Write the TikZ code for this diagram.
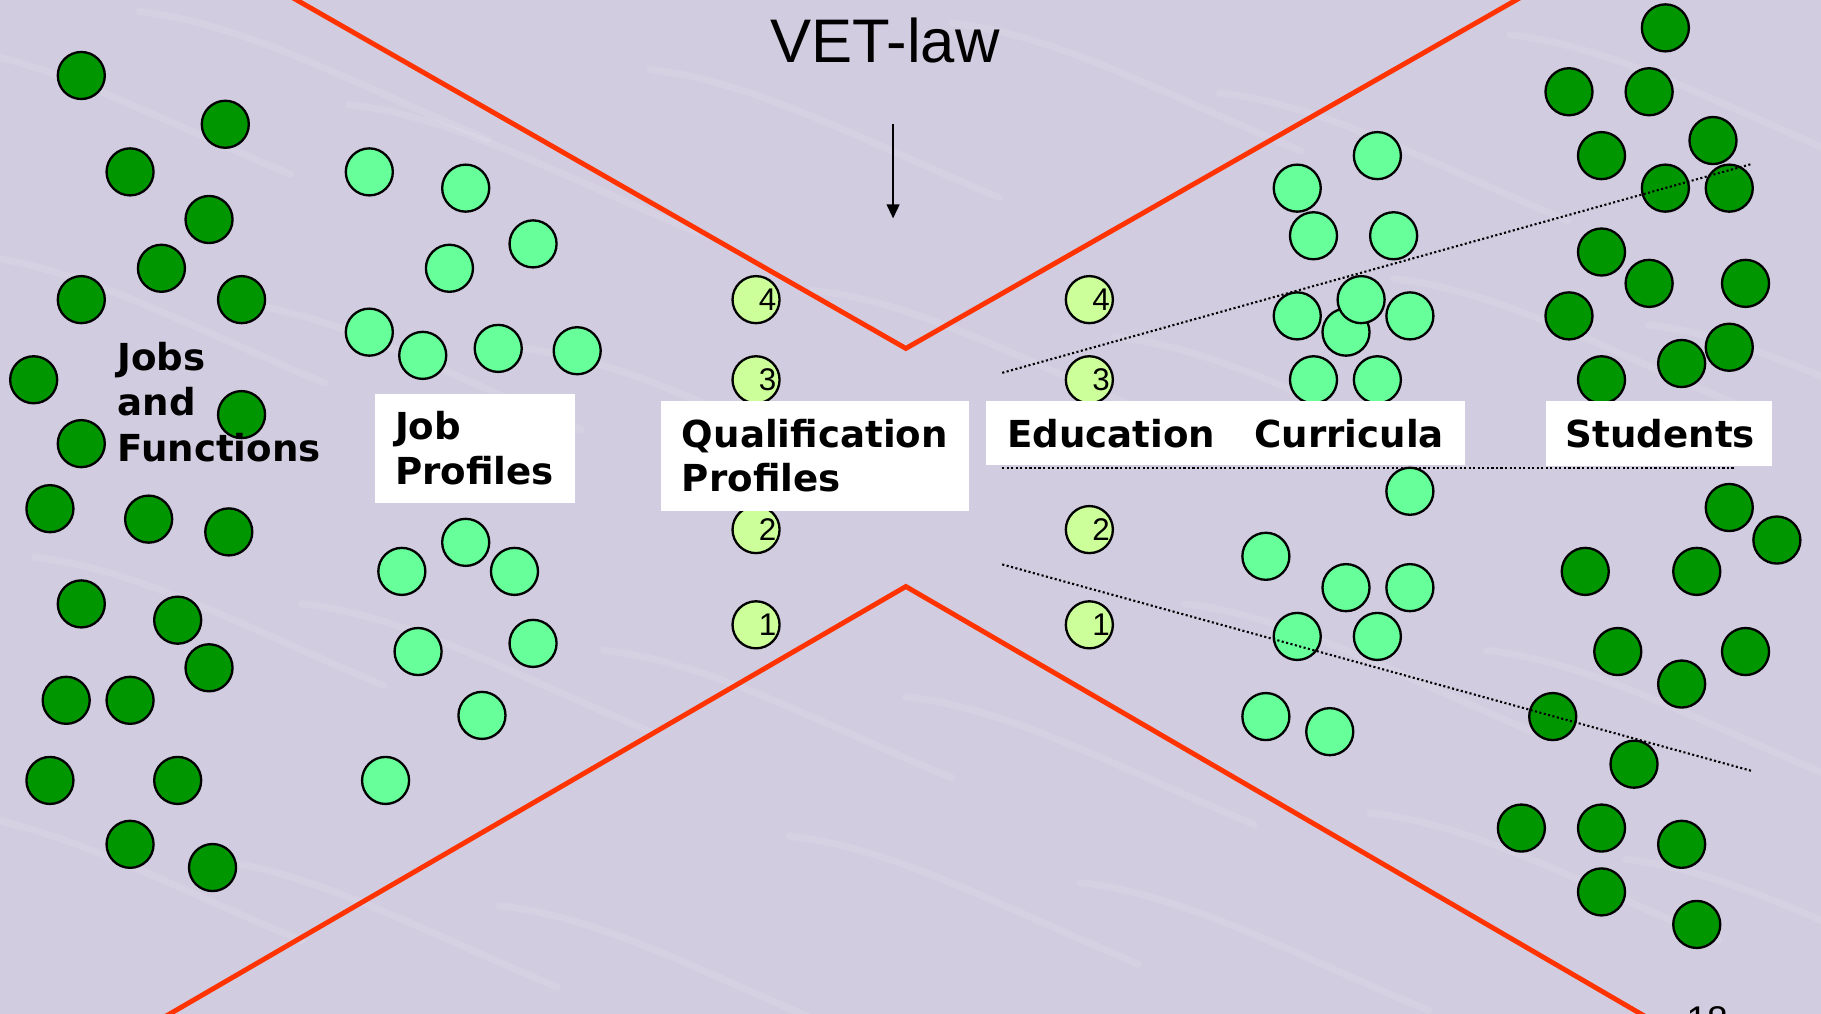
\documentclass[tikz,border=0pt]{standalone}
\usepackage{fontspec}
\setmainfont{Liberation Sans}
\newfontfamily\lblfont{DejaVu Sans}
\usetikzlibrary{arrows.meta}
\definecolor{bgc}{RGB}{209,204,223}
\definecolor{redline}{RGB}{255,51,0}
\definecolor{darkg}{RGB}{0,150,0}
\definecolor{lightg}{RGB}{102,255,153}
\definecolor{numg}{RGB}{204,255,153}
\begin{document}
\begin{tikzpicture}[x=1pt,y=-1pt,
  darkc/.style={circle, draw=black, line width=2pt, fill=darkg, minimum size=40.5pt, inner sep=0pt},
  lightc/.style={circle, draw=black, line width=2pt, fill=lightg, minimum size=40.5pt, inner sep=0pt},
  numc/.style={circle, draw=black, line width=2pt, fill=numg, minimum size=40.5pt, inner sep=0pt},
  numtxt/.style={font=\fontsize{27}{30}\selectfont, inner sep=0pt},
  lbl/.style={font=\lblfont\bfseries\fontsize{32}{38}\selectfont, anchor=base west, inner sep=0pt},
  wbox/.style={rectangle, fill=white, draw=none, inner sep=0pt, anchor=north west},
  redl/.style={draw=redline, line width=4.2pt},
  dotline/.style={draw=black, line width=1.8pt, dash pattern=on 1.8pt off 2.1pt},
  texture/.style={draw=white, opacity=0.1, line width=6pt, line cap=round}
]
\path[use as bounding box] (0,0) rectangle (1568,873);
\clip (0,0) rectangle (1568,873);
\fill[bgc] (0,0) rectangle (1568,873);
% faint water texture
\foreach \a/\b in {-50/40, 120/10, 300/90, 560/60, 820/20, 1050/80, 1300/30,
                   -20/220, 200/260, 450/300, 700/250, 960/290, 1200/240, 1420/280,
                   30/480, 260/520, 520/560, 780/600, 1020/520, 1280/560,
                   -40/700, 180/740, 430/780, 680/720, 930/760, 1180/700, 1400/740}
  \draw[texture] (\a,\b) .. controls (\a+90,\b+10) and (\a+180,\b+60) .. (\a+300,\b+110);
% red V lines
\coordinate (ul) at (238,-10);
\coordinate (uv) at (780,300);
\coordinate (ur) at (1323,-10);
\coordinate (ll) at (129,883);
\coordinate (lv) at (780,505);
\coordinate (lr) at (1430,883);
\draw[redl] (ul) -- (uv) -- (ur);
\draw[redl] (ll) -- (lv) -- (lr);
% dark green circles, left
\foreach \x/\y [count=\i] in {70/65,194/107,112/148,180/189,139/231,70/258,208/258,29/327,208/357,70/382,
  43/438,128/447,197/458,70/520,153/534,180/575,57/603,112/603,43/672,153/672,112/727,183/747}
  \node[darkc] (dl\i) at (\x,\y) {};
% light green circles, left
\foreach \x/\y [count=\i] in {318/148,401/162,459/210,387/231,318/286,364/306,429/300,497/302,
  401/467,346/492,443/492,360/561,459/554,415/616,332/672}
  \node[lightc] (ll\i) at (\x,\y) {};
% light green circles, right
\foreach \x/\y [count=\i] in {1186/134,1117/162,1131/203,1200/203,1117/272,1214/272,1159/286,1172/258,
  1131/327,1186/327,1214/423,1090/479,1159/506,1214/506,1117/548,1186/548,1090/617,1145/630}
  \node[lightc] (lr\i) at (\x,\y) {};
% dark green circles, right
\foreach \x/\y [count=\i] in {1434/24,1351/79,1420/79,1475/121,1379/134,1434/162,1489/162,1379/217,
  1420/244,1503/244,1351/272,1448/313,1489/299,1379/327,1489/437,1530/465,1365/492,1461/492,
  1393/561,1503/561,1448/589,1337/617,1407/658,1310/713,1379/713,1448/727,1379/768,1461/796}
  \node[darkc] (dr\i) at (\x,\y) {};
% numbered circles
\foreach \n/\y in {4/258,3/327,2/456,1/538} {
  \node[numc] (qc\n) at (651,\y) {};
  \node[numtxt] (qt\n) at ([xshift=10pt]qc\n.center) {\n};
  \node[numc] (ec\n) at (938,\y) {};
  \node[numtxt] (et\n) at ([xshift=10pt]ec\n.center) {\n};
}
% white boxes
\node[wbox, minimum width=172pt, minimum height=94pt] (jpbox) at (323,339) {};
\node[wbox, minimum width=265pt, minimum height=95pt] (qpbox) at (569,345) {};
\node[wbox, minimum width=412pt, minimum height=55pt] (ecbox) at (849,345) {};
\node[wbox, minimum width=195pt, minimum height=56pt] (stbox) at (1331,345) {};
% labels
\node[lbl] (jobs) at (101,319) {Jobs};
\node[lbl] (and) at (101,358) {and};
\node[lbl] (func) at (101,397) {Functions};
\node[lbl] (jp1) at (340,378) {Job};
\node[lbl] (jp2) at (340,417) {Profiles};
\node[lbl] (qp1) at (587,385) {Qualification};
\node[lbl] (qp2) at (587,423) {Profiles};
\node[lbl] (edu) at (867,385) {Education};
\node[lbl] (cur) at (1080,385) {Curricula};
\node[lbl] (stu) at (1348,385) {Students};
% title and arrow
\node[font=\fontsize{53}{60}\selectfont, anchor=base, inner sep=0pt] (vet) at (762,54) {VET-law};
\coordinate (a1) at (769,107);
\coordinate (a2) at (769,188);
\draw[line width=1.5pt, -{Triangle[length=12pt,width=11pt]}] (a1) -- (a2);
% dotted lines
\coordinate (dh1) at (863,403);
\coordinate (dh2) at (1494,403);
\coordinate (du1) at (863,321);
\coordinate (du2) at (1509,141);
\coordinate (dd1) at (863,486);
\coordinate (dd2) at (1509,664);
\draw[dotline] (dh1) -- (dh2);
\draw[dotline] (du1) -- (du2);
\draw[dotline] (dd1) -- (dd2);
% page number (cut off at the bottom edge, as in the reference)
\node[font=\fontsize{32}{36}\selectfont, anchor=base west, inner sep=0pt] (pg) at (1452,889) {18};
\end{tikzpicture}
\end{document}
